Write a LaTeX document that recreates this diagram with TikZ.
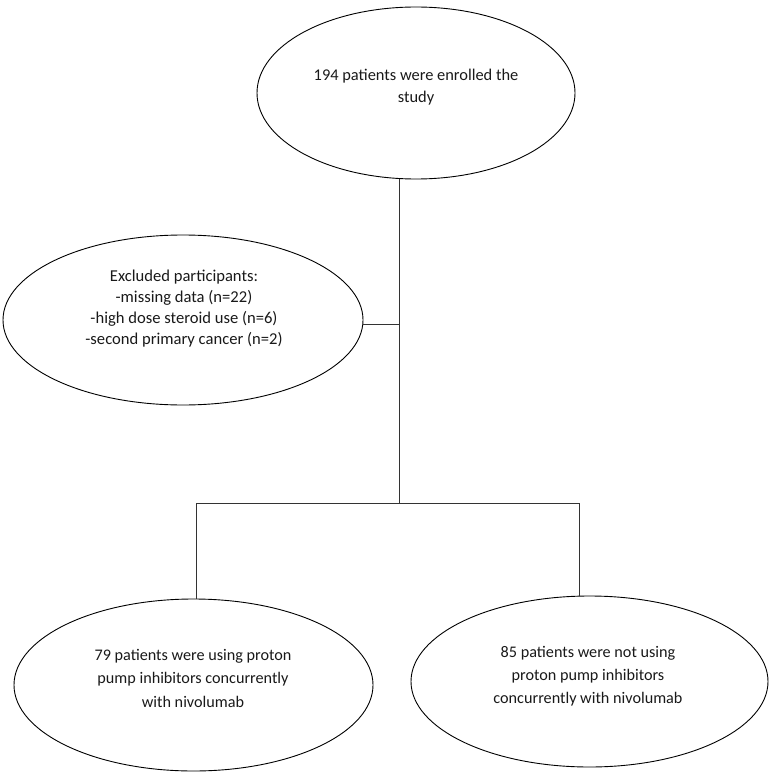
\documentclass[tikz,border=0pt]{standalone}
\usepackage{fontspec}
\setmainfont{Carlito}
\usetikzlibrary{shapes.geometric}
\begin{document}
\begin{tikzpicture}[x=1pt,y=-1pt,
  oval/.style={draw, line width=0.9pt, ellipse, inner sep=0pt},
  txt/.style={align=center, inner sep=0pt, text=black!90},
  link/.style={draw, line width=1pt, black!80}]
\useasboundingbox (0,0) rectangle (774,778);
\node[oval, minimum width=318, minimum height=172] (top) at (416,93) {};
\node[oval, minimum width=360, minimum height=170] (exc) at (183,320) {};
\node[oval, minimum width=359, minimum height=172] (lft) at (193.5,685) {};
\node[oval, minimum width=357, minimum height=171] (rgt) at (589.5,681.5) {};
\node[txt, font=\fontsize{16.4}{22}\selectfont] (topT) at (416,87) {194 patients were enrolled the\\study};
\node[txt, font=\fontsize{16.6}{21}\selectfont] (excT) at (184,309) {Excluded participants:\\-missing data (n=22)\\-high dose steroid use (n=6)\\-second primary cancer (n=2)};
\node[txt, font=\fontsize{16.2}{23.5}\selectfont] (lftT) at (193,678) {79 patients were using proton\\pump inhibitors concurrently\\with nivolumab};
\node[txt, font=\fontsize{16.2}{23}\selectfont] (rgtT) at (588,676) {85 patients were not using\\proton pump inhibitors\\concurrently with nivolumab};
\coordinate (j1) at (399,324);
\coordinate (j2) at (399,503);
\coordinate (bl) at (196,503);
\coordinate (br) at (579,503);
\draw[link] (top.south -| j1) -- (j2);
\draw[link] (exc.east |- j1) -- (j1);
\draw[link] (bl) -- (br);
\draw[link] (bl) -- (bl |- lft.north);
\draw[link] (br) -- (br |- rgt.north);
\end{tikzpicture}
\end{document}
